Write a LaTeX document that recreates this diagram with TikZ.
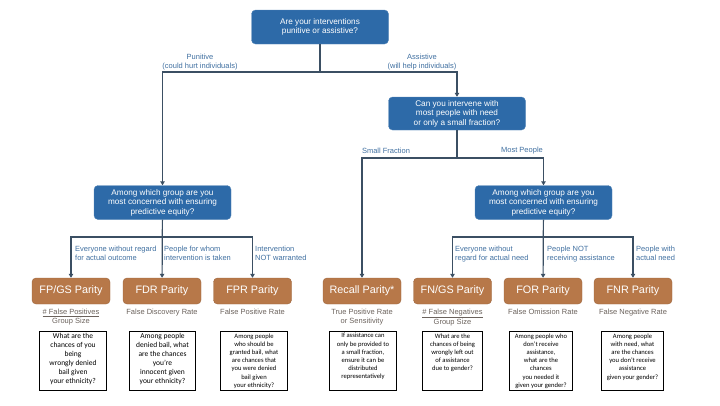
\documentclass[tikz,border=0pt]{standalone}
\usepackage{fontspec}
\setmainfont{Liberation Sans}
\newfontfamily\calibri{Carlito}
\usepackage{tikz}
\usepackage{tkz-euclide}
\usepackage{xcolor}
\usetikzlibrary{arrows.meta}

\definecolor{azulno}{HTML}{2D6AA8}
\definecolor{marrom}{HTML}{B77849}
\definecolor{linha}{HTML}{3B4F63}
\definecolor{rotulo}{HTML}{3F6FA0}
\definecolor{cinza}{HTML}{6B625C}

%caixa de texto com altura fixa e texto alinhado em cima
\newcommand{\quadro}[2]{\parbox[c][55pt][t]{#1}{\centering #2}}

\begin{document}
\begin{tikzpicture}[x=1pt,y=-1pt,
  pergunta/.style={fill=azulno, draw=azulno!80!white, rounded corners=4pt, text=white, align=center,
    minimum width=137pt, minimum height=34pt, inner sep=1pt, font=\fontsize{8.2}{9.5}\selectfont},
  paridade/.style={fill=marrom, draw=marrom!85!black, rounded corners=4pt, text=white,
    minimum width=78pt, minimum height=26pt, inner sep=1pt, font=\fontsize{10.8}{12}\selectfont},
  taxa/.style={text=cinza, align=center, anchor=north, inner sep=0pt, font=\fontsize{7.5}{8.7}\selectfont},
  ramo/.style={text=rotulo, align=left, inner sep=0pt, font=\fontsize{7.5}{9}\selectfont},
  caixa/.style={draw=black, line width=0.9pt, fill=white, anchor=north, inner sep=2pt,
    font=\calibri\fontsize{7.5}{9}\selectfont},
  miuda/.style={font=\calibri\fontsize{6.6}{8.2}\selectfont},
  fio/.style={draw=linha, line width=1.2pt},
  seta/.style={fio, -{Triangle[width=4.5pt,length=4pt]}}
  ] %estilos do fluxograma

\useasboundingbox (0,0) rectangle (720,405);

%Pontos onde as linhas se dividem em ramos (x/y/NomedoPonto), em pixels da figura
\tkzDefPoints{
320/72/E1,
457/158/E2,
162/237/E3,
543/237/E4}

%Perguntas em azul
%---------------------------------------------------
\node[pergunta] (Pergunta) at (320,27) {Are your interventions\\punitive or assistive?};
\node[pergunta, minimum height=33pt] (Intervir) at (457,113.5) {Can you intervene with\\most people with need\\or only a small fraction?};
\node[pergunta] (GrupoPun) at (162.5,202.5) {Among which group are you\\most concerned with ensuring\\predictive equity?};
\node[pergunta] (GrupoAss) at (543.5,202.5) {Among which group are you\\most concerned with ensuring\\predictive equity?};
%---------------------------------------------------

%Metricas de paridade em marrom
%---------------------------------------------------
\node[paridade] (FPGS) at (71,291) {FP/GS Parity};
\node[paridade] (FDR) at (162,291) {FDR Parity};
\node[paridade] (FPR) at (252.5,291) {FPR Parity};
\node[paridade] (Recall) at (362,291) {Recall Parity*};
\node[paridade] (FNGS) at (452.5,291) {FN/GS Parity};
\node[paridade] (FOR) at (543,291) {FOR Parity};
\node[paridade] (FNR) at (633,291) {FNR Parity};
%---------------------------------------------------

%Nome de cada taxa, abaixo da metrica
%---------------------------------------------------
\node[taxa] (tFPGS) at (71,309) {\underline{\# False Positives}\\Group Size};
\node[taxa] (tFDR) at (162,309) {False Discovery Rate};
\node[taxa] (tFPR) at (252.5,309) {False Positive Rate};
\node[taxa] (tRecall) at (362,309) {True Positive Rate\\or Sensitivity};
\node[taxa] (tFNGS) at (452.5,309) {\underline{\# False Negatives}\\Group Size};
\node[taxa] (tFOR) at (543,309) {False Omission Rate};
\node[taxa] (tFNR) at (633,309) {False Negative Rate};
%---------------------------------------------------

%Caixas com as perguntas em linguagem simples
%---------------------------------------------------
\node[caixa] (dFPGS) at (73,331) {\quadro{63pt}{What are the\\chances of you\\being\\wrongly denied\\bail given\\your ethnicity?}};
\node[caixa] (dFDR) at (162.5,331) {\quadro{62pt}{Among people\\denied bail, what\\are the chances\\you’re\\innocent given\\your ethnicity?}};
\node[caixa, miuda] (dFPR) at (254,331) {\quadro{63pt}{Among people\\who should be\\granted bail, what\\are chances that\\you were denied\\bail given\\your ethnicity?}};
\node[caixa, miuda] (dRecall) at (363,331) {\quadro{63pt}{If assistance can\\only be provided to\\a small fraction,\\ensure it can be\\distributed\\representatively}};
\node[caixa, miuda] (dFNGS) at (452.5,331) {\quadro{56pt}{What are the\\chances of being\\wrongly left out\\of assistance\\due to gender?}};
\node[caixa, miuda] (dFOR) at (541,331) {\quadro{59pt}{Among people who\\don’t receive\\assistance,\\what are the\\chances\\you needed it\\given your gender?}};
\node[caixa, miuda] (dFNR) at (632.5,331) {\quadro{58pt}{Among people\\with need, what\\are the chances\\you don’t receive\\assistance\\given your gender?}};
%---------------------------------------------------

%Ligacoes da primeira pergunta
%---------------------------------------------------
\draw[fio] (Pergunta) -- (E1);
\draw[seta] (E1) -| (GrupoPun);
\draw[seta] (E1) -| (Intervir);
\node[ramo, align=center, anchor=south] (rPun) at (200,70.5) {Punitive\\(could hurt individuals)};
\node[ramo, align=center, anchor=south] (rAss) at (422,70.5) {Assistive\\(will help individuals)};
%---------------------------------------------------

%Ligacoes da segunda pergunta
%---------------------------------------------------
\draw[fio] (Intervir) -- (E2);
\draw[seta] (E2) -| (Recall);
\draw[seta] (E2) -| (GrupoAss);
\node[ramo] (rPeq) at (386,151) {Small Fraction};
\node[ramo] (rMaior) at (522,151) {Most People};
%---------------------------------------------------

%Ramos do lado punitivo
%---------------------------------------------------
\draw[seta] (GrupoPun) -- (FDR);
\draw[seta] (E3) -| (FPGS);
\draw[seta] (E3) -| (FPR);
\node[ramo, anchor=north west] (rTodos) at (75,246) {Everyone without regard\\for actual outcome};
\node[ramo, anchor=north west] (rTomada) at (164,246) {People for whom\\intervention is taken};
\node[ramo, anchor=north west] (rSem) at (255,246) {Intervention\\NOT warranted};
%---------------------------------------------------

%Ramos do lado assistivo
%---------------------------------------------------
\draw[seta] (GrupoAss) -- (FOR);
\draw[seta] (E4) -| (FNGS);
\draw[seta] (E4) -| (FNR);
\node[ramo, anchor=north west] (rTodosB) at (455,246) {Everyone without\\regard for actual need};
\node[ramo, anchor=north west] (rNao) at (547,246) {People NOT\\receiving assistance};
\node[ramo, anchor=north west] (rCom) at (636,246) {People with\\actual need};
%---------------------------------------------------

\end{tikzpicture}
\end{document}
